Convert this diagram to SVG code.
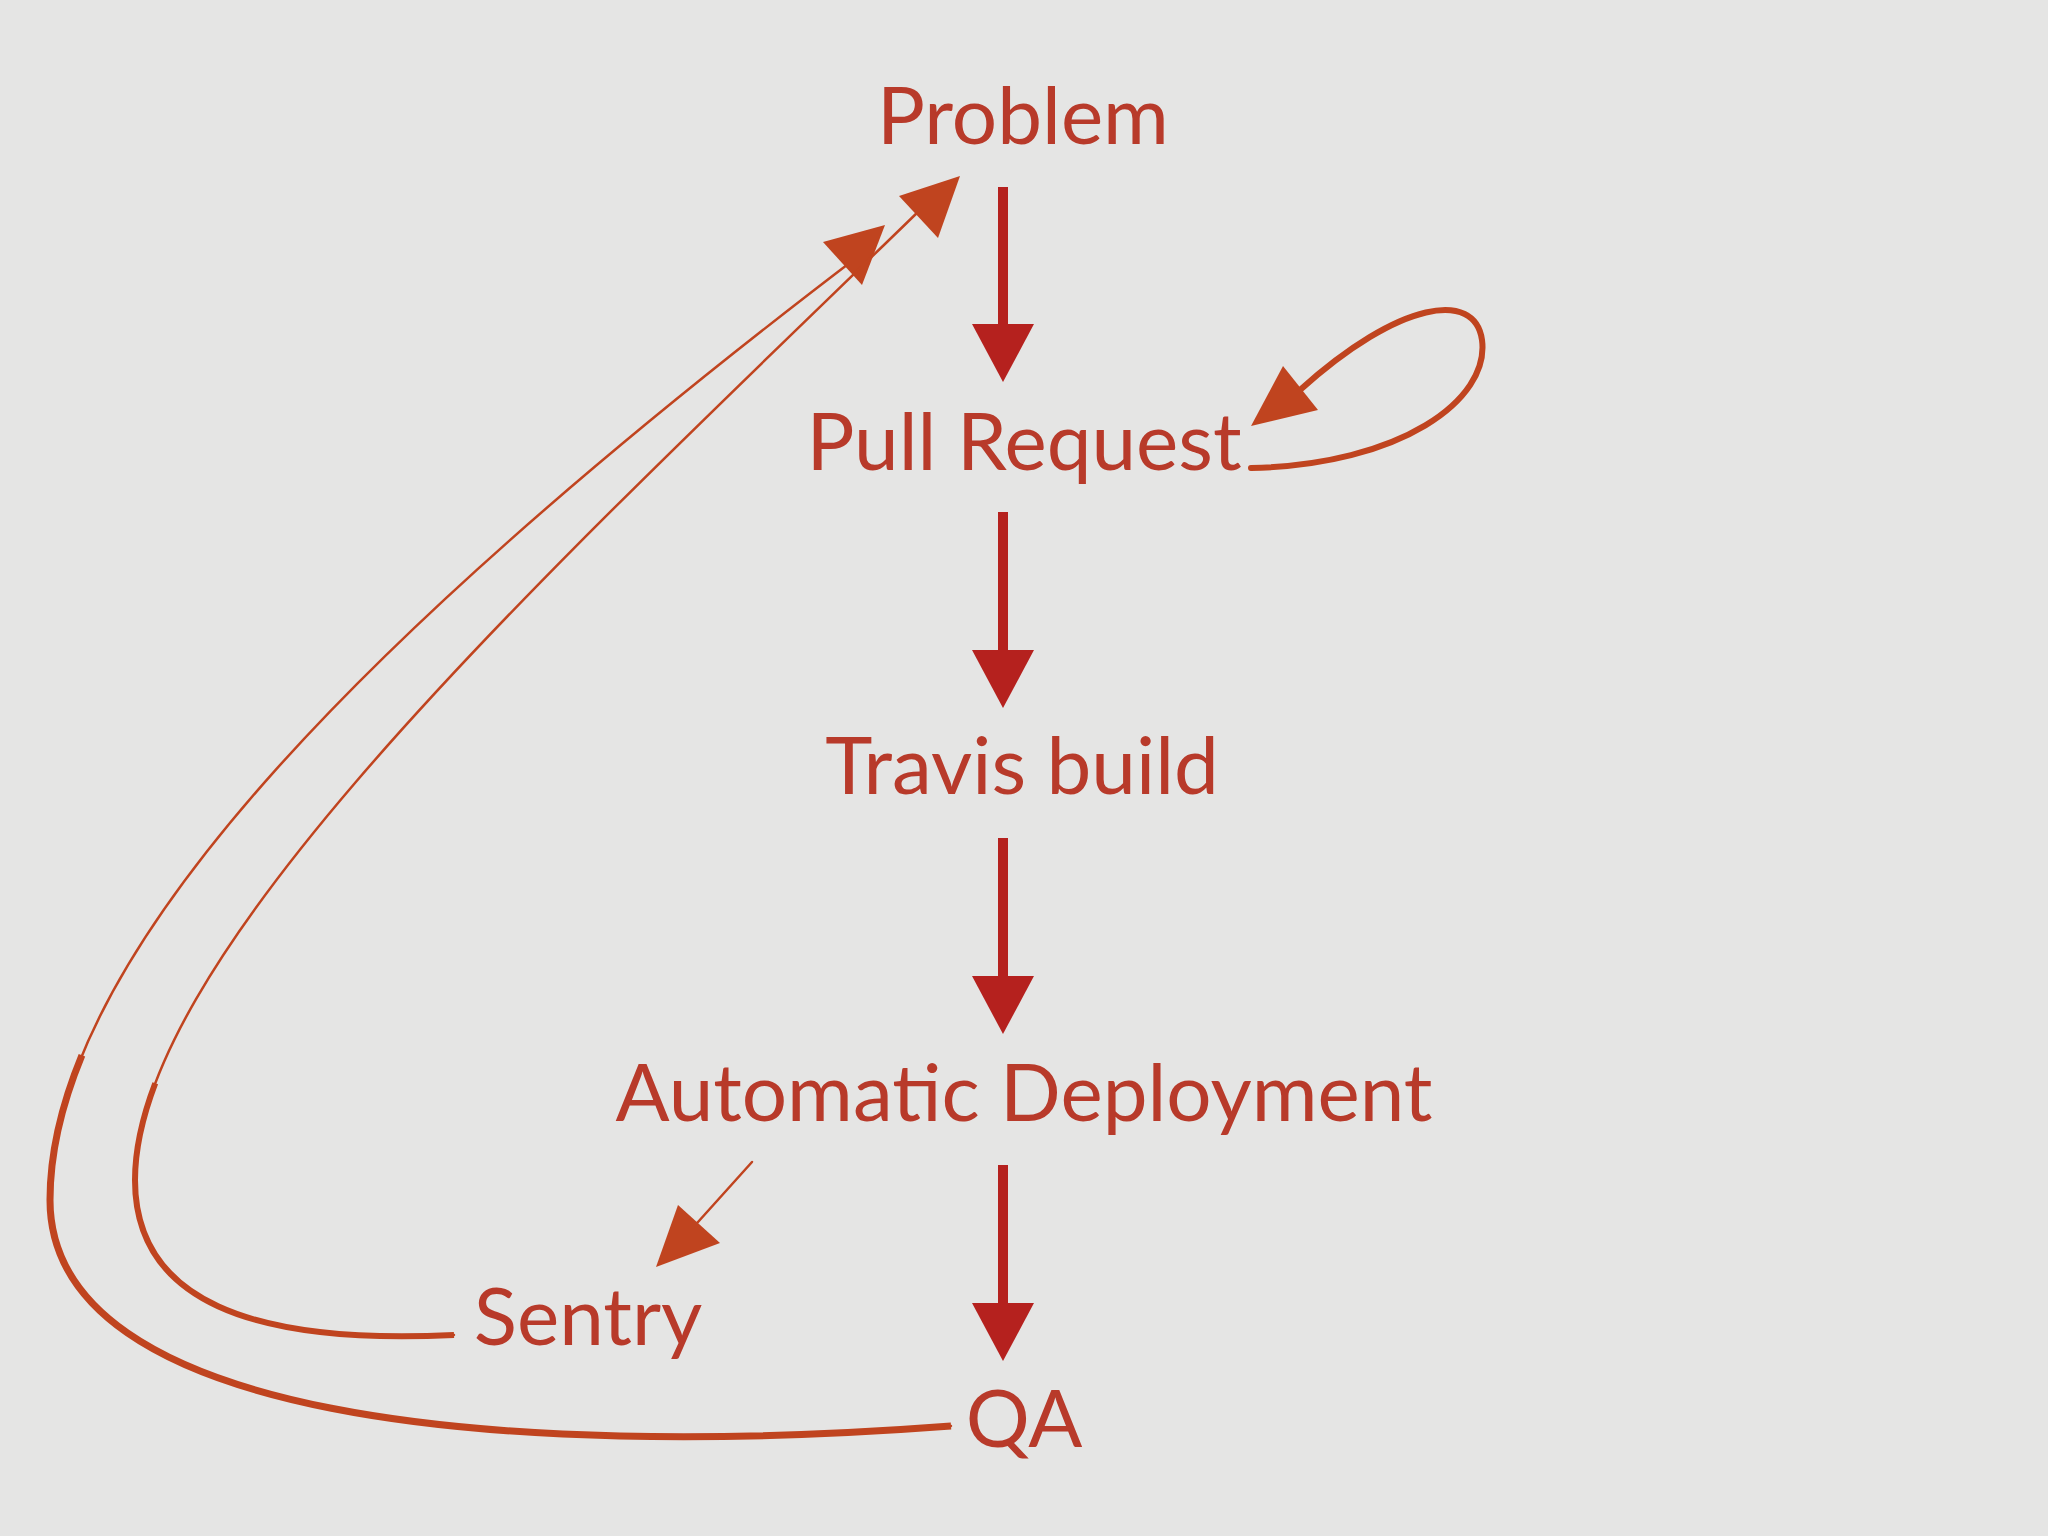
<svg xmlns="http://www.w3.org/2000/svg" width="2048" height="1536" viewBox="0 0 2048 1536">
<style>
.t{font-family:"Gill Sans","Lato","Open Sans",sans-serif;font-size:80px;fill:#b83a2a;text-anchor:middle}
.v{stroke:#b5211e;stroke-width:10;fill:none}
.h{fill:#b5211e}
.c{stroke:#c0441f;fill:none;stroke-linecap:round}
.o{stroke:#c0441f;fill:none;stroke-linecap:butt}
.ch{fill:#c0441f}
</style>
<rect width="2048" height="1536" fill="#e5e5e4"/>
<g id="problem"><text class="t" x="1023" y="144">Problem</text></g>
<g id="pull-request"><text class="t" x="1024" y="470">Pull Request</text></g>
<g id="travis-build"><text class="t" x="1022" y="794">Travis build</text></g>
<g id="automatic-deployment"><text class="t" x="1024" y="1121">Automatic Deployment</text></g>
<g id="sentry"><text class="t" x="588" y="1345">Sentry</text></g>
<g id="qa"><text class="t" x="1024" y="1447">QA</text></g>
<g id="connectors">
<line class="v" x1="1003" y1="187" x2="1003" y2="335"/><polygon class="h" points="972,324 1034,324 1003,382"/>
<line class="v" x1="1003" y1="512" x2="1003" y2="660"/><polygon class="h" points="972,650 1034,650 1003,708"/>
<line class="v" x1="1003" y1="838" x2="1003" y2="986"/><polygon class="h" points="972,976 1034,976 1003,1034"/>
<line class="v" x1="1003" y1="1165" x2="1003" y2="1313"/><polygon class="h" points="972,1303 1034,1303 1003,1361"/>
<path class="c" stroke-width="6" d="M1251,468 C1400,465 1490,400 1482,340 C1475,290 1400,300 1300,390"/>
<polygon class="ch" points="1251,426 1283,366 1318,410"/>
<line class="c" stroke-width="2.5" x1="752" y1="1162" x2="680" y2="1242"/>
<polygon class="ch" points="656,1267 678,1205 720,1243"/>
<path class="c" stroke-width="2.5" d="M951,1426 C500,1460 50,1420 50,1200 C50,950 380,620 860,255"/>
<path class="o" stroke-width="7" stroke-dasharray="1150 5000" d="M951,1426 C500,1460 50,1420 50,1200 C50,950 380,620 860,255"/>
<polygon class="ch" points="885,225 823,242 862,285"/>
<path class="c" stroke-width="2.5" d="M454,1335 C250,1345 135,1300 135,1180 C135,950 560,560 920,210"/>
<path class="o" stroke-width="6" stroke-dasharray="500 5000" d="M454,1335 C250,1345 135,1300 135,1180 C135,950 560,560 920,210"/>
<polygon class="ch" points="960,176 899,196 938,238"/>
</g>
</svg>
